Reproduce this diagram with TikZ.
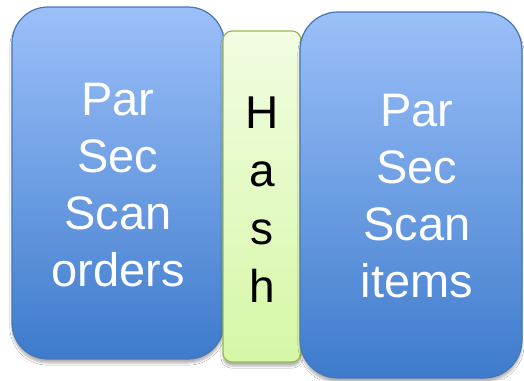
\documentclass[tikz,border=0pt]{standalone}
\usepackage{fontspec}
\setmainfont{Liberation Sans}
\usetikzlibrary{shadows.blur}
\definecolor{bluetop}{RGB}{155,192,249}
\definecolor{bluebot}{RGB}{62,123,204}
\definecolor{blueedge}{RGB}{72,118,180}
\definecolor{greentop}{RGB}{242,253,226}
\definecolor{greenbot}{RGB}{214,247,166}
\definecolor{greenedge}{RGB}{150,185,85}
\tikzset{
  bluebox/.style={draw=blueedge, line width=1.2pt, top color=bluetop, bottom color=bluebot,
    rectangle, inner sep=0pt,
    blur shadow={shadow xshift=0pt, shadow yshift=-4pt, shadow blur steps=6, shadow opacity=30}},
  greenbox/.style={draw=greenedge, line width=1.2pt, top color=greentop, bottom color=greenbot,
    rectangle, inner sep=0pt, rounded corners=9pt,
    blur shadow={shadow xshift=0pt, shadow yshift=-4pt, shadow blur steps=6, shadow opacity=30}},
  bluetext/.style={text=white, align=center, inner sep=0pt,
    font=\fontsize{47}{57}\selectfont},
  greentext/.style={text=black, align=center, inner sep=0pt,
    font=\fontsize{46}{58}\selectfont}
}
\begin{document}
\begin{tikzpicture}[x=1pt,y=-1pt]
\useasboundingbox (0,0) rectangle (524,380);
\fill[white] (0,0) rectangle (524,380);
\node[bluebox, rounded corners=36pt, minimum width=212pt, minimum height=352pt] (left) at (118,183) {};
\node[greenbox, minimum width=78pt, minimum height=331pt] (mid) at (262,196.5) {};
\node[bluebox, rounded corners=38pt, minimum width=222pt, minimum height=366pt] (right) at (411,195) {};
\node[bluetext] (lefttext) at (118,185) {Par\\Sec\\Scan\\orders};
\node[greentext] (midtext) at (262,200) {H\\a\\s\\h};
\node[bluetext] (righttext) at (417,196) {Par\\Sec\\Scan\\items};
\end{tikzpicture}
\end{document}
